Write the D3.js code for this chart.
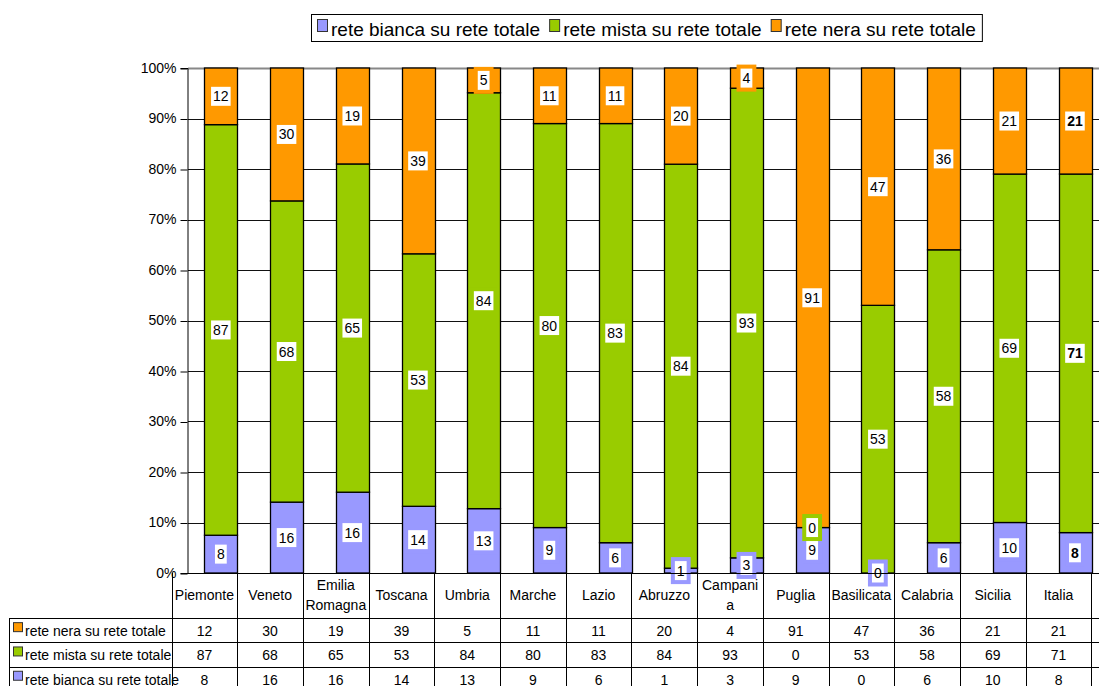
<!DOCTYPE html>
<html>
<head>
<meta charset="utf-8">
<script src="https://cdn.jsdelivr.net/npm/d3@7"></script>
<style>
  body { margin: 0; background: #fff; }
  svg { font-family: Arial, "Liberation Sans", sans-serif; }
</style>
</head>
<body>
<svg id="vis-svg" width="1099" height="686"></svg>
<script>
var width = 1099;
var height = 686;
var margin = {top: 68, left: 188, right: -9, bottom: 113};

// data
const categories = ["Piemonte","Veneto","Emilia Romagna","Toscana","Umbria","Marche","Lazio","Abruzzo","Campania","Puglia","Basilicata","Calabria","Sicilia","Italia"];
const catLines = [["Piemonte"],["Veneto"],["Emilia","Romagna"],["Toscana"],["Umbria"],["Marche"],["Lazio"],["Abruzzo"],["Campani","a"],["Puglia"],["Basilicata"],["Calabria"],["Sicilia"],["Italia"]];
const bianca = [8,16,16,14,13,9,6,1,3,9,0,6,10,8];
const mista  = [87,68,65,53,84,80,83,84,93,0,53,58,69,71];
const nera   = [12,30,19,39,5,11,11,20,4,91,47,36,21,21];
const seriesNames = ["rete bianca su rete totale","rete mista su rete totale","rete nera su rete totale"];
const seriesKeys = ["bianca","mista","nera"];
const colors = ["#9999ff","#99cc00","#ff9900"];
const yTicks = [0,0.1,0.2,0.3,0.4,0.5,0.6,0.7,0.8,0.9,1];

const rows = categories.map((c, i) => ({cat: c, bianca: bianca[i], mista: mista[i], nera: nera[i]}));

const svg = d3.select("#vis-svg");
const plotBottom = height - margin.bottom; // 573
const x = d3.scaleBand().domain(categories).range([margin.left, margin.left + 65.7 * 14]).paddingInner(0.5).paddingOuter(0.25);
const y = d3.scaleLinear().domain([0, 1]).range([plotBottom, margin.top]);
const color = d3.scaleOrdinal().domain(seriesKeys).range(colors);

// gridlines
svg.append("g").selectAll("line").data(yTicks).enter().append("line")
  .attr("x1", margin.left).attr("x2", width)
  .attr("y1", d => Math.round(y(d)) + 0.5).attr("y2", d => Math.round(y(d)) + 0.5)
  .attr("stroke", d => d === 1 ? "#888" : "#111")
  .attr("stroke-width", d => d === 1 ? 2 : 1);

// y axis
const yAxis = d3.axisLeft(y).tickValues(yTicks).tickFormat(d3.format(".0%")).tickSize(7).tickPadding(4);
const ya = svg.append("g").attr("transform", "translate(" + (margin.left - 0.5) + ",0)").call(yAxis);
ya.select(".domain").attr("stroke", "#000");
ya.selectAll(".tick line").attr("stroke", "#000").attr("transform", "translate(0,0.5)");
ya.selectAll("text").attr("font-size", 14).attr("fill", "#000").attr("font-family", "Arial, 'Liberation Sans', sans-serif");

// stacked bars (100%)
const stack = d3.stack().keys(seriesKeys).offset(d3.stackOffsetExpand);
const layers = stack(rows);

const gl = svg.append("g").selectAll("g").data(layers).enter().append("g")
  .attr("fill", d => color(d.key));
gl.selectAll("rect").data(d => d).enter().append("rect")
  .attr("x", d => Math.round(x(d.data.cat)) + 0.5)
  .attr("width", Math.round(x.bandwidth()))
  .attr("y", d => y(d[1]))
  .attr("height", d => y(d[0]) - y(d[1]))
  .attr("stroke", "#000")
  .attr("stroke-width", 1.3);

// data labels
const lab = svg.append("g");
layers.forEach((layer, si) => {
  layer.forEach((d, i) => {
    const v = rows[i][layer.key];
    const cx = x(d.data.cat) + x.bandwidth() / 2;
    const cy = y((d[0] + d[1]) / 2);
    const bold = d.data.cat === "Italia";
    const t = lab.append("text").attr("x", cx).attr("y", cy + 5)
      .attr("text-anchor", "middle").attr("font-size", 14)
      .attr("font-weight", bold ? "bold" : "normal").text(v);
    const w = t.node().getComputedTextLength();
    const bw = w + 4, bh = 19;
    lab.insert("rect", "text").attr("x", cx - bw / 2 - 4).attr("y", cy - bh / 2 - 4)
      .attr("width", bw + 8).attr("height", bh + 8).attr("fill", colors[si]);
    lab.insert("rect", "text").attr("x", cx - bw / 2).attr("y", cy - bh / 2)
      .attr("width", bw).attr("height", bh).attr("fill", "#fff");
  });
});
// keep texts on top
lab.selectAll("text").raise();

// axis baseline
svg.append("line").attr("x1", margin.left).attr("x2", width)
  .attr("y1", plotBottom + 0.5).attr("y2", plotBottom + 0.5).attr("stroke", "#000");

// data table
const step = x.step();
const tableX0 = margin.left - x.step() * x.paddingOuter();
const headerBottom = 618;
const rowH = 24.3;
const tbl = svg.append("g").attr("font-size", 14).attr("fill", "#000");
const tableRows = [
  {name: seriesNames[2], vals: nera, c: colors[2]},
  {name: seriesNames[1], vals: mista, c: colors[1]},
  {name: seriesNames[0], vals: bianca, c: colors[0]}
];
// vertical lines
for (let i = 0; i <= categories.length; i++) {
  const xx = Math.round(tableX0 + i * step) + 0.5;
  tbl.append("line").attr("x1", xx).attr("x2", xx).attr("y1", plotBottom).attr("y2", height).attr("stroke", "#000");
}
tbl.append("line").attr("x1", 9.5).attr("x2", 9.5).attr("y1", headerBottom).attr("y2", height).attr("stroke", "#000");
for (let r = 0; r <= 3; r++) {
  const yy = Math.round(headerBottom + r * rowH) + 0.5;
  tbl.append("line").attr("x1", 9).attr("x2", width).attr("y1", yy).attr("y2", yy).attr("stroke", "#000");
}
// header labels
categories.forEach((c, i) => {
  const cx = tableX0 + (i + 0.5) * step;
  const lines = catLines[i];
  const mid = (plotBottom + headerBottom) / 2;
  lines.forEach((ln, j) => {
    tbl.append("text").attr("x", cx).attr("y", mid + 4 + (j - (lines.length - 1) / 2) * 20)
      .attr("text-anchor", "middle").text(ln);
  });
});
// rows
tableRows.forEach((r, ri) => {
  const yc = headerBottom + (ri + 0.5) * rowH;
  tbl.append("rect").attr("x", 13.5).attr("y", yc - 7.5).attr("width", 9).attr("height", 9)
    .attr("fill", r.c).attr("stroke", "#333");
  tbl.append("text").attr("x", 25).attr("y", yc + 6).text(r.name);
  r.vals.forEach((v, i) => {
    tbl.append("text").attr("x", tableX0 + (i + 0.5) * step).attr("y", yc + 6)
      .attr("text-anchor", "middle").text(v);
  });
});

// legend
const leg = svg.append("g");
let lx = 317;
seriesNames.forEach((n, i) => {
  const g = leg.append("g");
  g.append("rect").attr("x", lx + 0.5).attr("y", 19.5).attr("width", 10).attr("height", 12)
    .attr("fill", colors[i]).attr("stroke", "#333");
  const t = g.append("text").attr("x", lx + 14).attr("y", 36).attr("font-size", 19).text(n);
  lx += 14 + t.node().getComputedTextLength() + 9;
});
leg.insert("rect", "g").attr("x", 311.5).attr("y", 14.5).attr("width", lx - 311 - 3).attr("height", 27)
  .attr("fill", "#fff").attr("stroke", "#000");
</script>
</body>
</html>
